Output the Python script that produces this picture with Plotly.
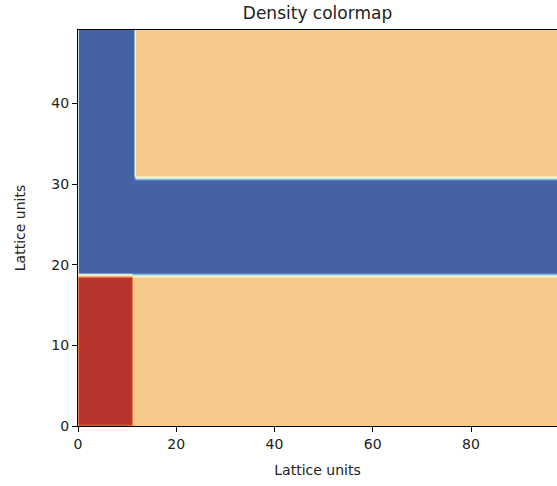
import numpy as np
import plotly.graph_objects as go

# Lattice size (lattice units)
lattice_nx = 100
lattice_ny = 50

# Density levels (normalised) of the three phases
level_names = ["low", "mid", "high"]
level_values = [0.0, 0.62, 1.0]

# Regions: rectangles in lattice units with the density level they hold
rect_x0 = [0.0, 0.0, 11.0]
rect_x1 = [11.0, 11.4, 100.0]
rect_y0 = [0.0, 18.8, 18.6]
rect_y1 = [18.8, 50.0, 31.0]
rect_level = ["high", "low", "low"]
background_level = "mid"

x_ticks = [0, 20, 40, 60, 80]
y_ticks = [0, 10, 20, 30, 40]

step_x = 0.5
step_y = 0.75
xs = np.arange(-0.25, lattice_nx + step_x, step_x)
ys = np.arange(-0.375, lattice_ny + step_y, step_y)
lv = dict(zip(level_names, level_values))
z = np.full((len(ys), len(xs)), lv[background_level])
XX, YY = np.meshgrid(xs, ys)
for x0, x1, y0, y1, name in zip(rect_x0, rect_x1, rect_y0, rect_y1, rect_level):
    m = (XX >= x0) & (XX < x1) & (YY >= y0) & (YY < y1)
    z[m] = lv[name]

colorscale = [
    [0.0, "#4462a5"],
    [0.12, "#5b86bd"],
    [0.22, "#8cbfd9"],
    [0.33, "#d3edf0"],
    [0.45, "#fbf8c2"],
    [0.62, "#f5c98a"],
    [0.78, "#f08a55"],
    [0.9, "#d3493a"],
    [1.0, "#b8352f"],
]

fig = go.Figure(go.Heatmap(
    x=xs, y=ys, z=z, colorscale=colorscale, zmin=0, zmax=1,
    zsmooth="best", showscale=False, hoverinfo="skip",
))

font = dict(family="DejaVu Sans", size=14, color="#222222")
fig.update_layout(
    width=557, height=486,
    margin=dict(l=78, r=0, t=30, b=60),
    paper_bgcolor="white", plot_bgcolor="white",
    font=font,
    title=dict(text="Density colormap", x=0.5, xref="paper", xanchor="center",
               y=1 - 13 / 486, yref="container", yanchor="middle",
               font=dict(family="DejaVu Sans", size=17, color="#222222")),
    xaxis=dict(range=[0, 97.5], tickvals=x_ticks, ticks="outside", ticklen=5,
               tickwidth=1, tickcolor="black", showline=True, linecolor="black",
               linewidth=1, mirror=True, showgrid=False, zeroline=False,
               title=dict(text="Lattice units", font=font, standoff=14)),
    yaxis=dict(range=[0, 49.1], tickvals=y_ticks, ticks="outside", ticklen=5,
               tickwidth=1, tickcolor="black", showline=True, linecolor="black",
               linewidth=1, mirror=False, showgrid=False, zeroline=False,
               title=dict(text="Lattice units", font=font, standoff=22)),
)

fig.write_html("out.html")
